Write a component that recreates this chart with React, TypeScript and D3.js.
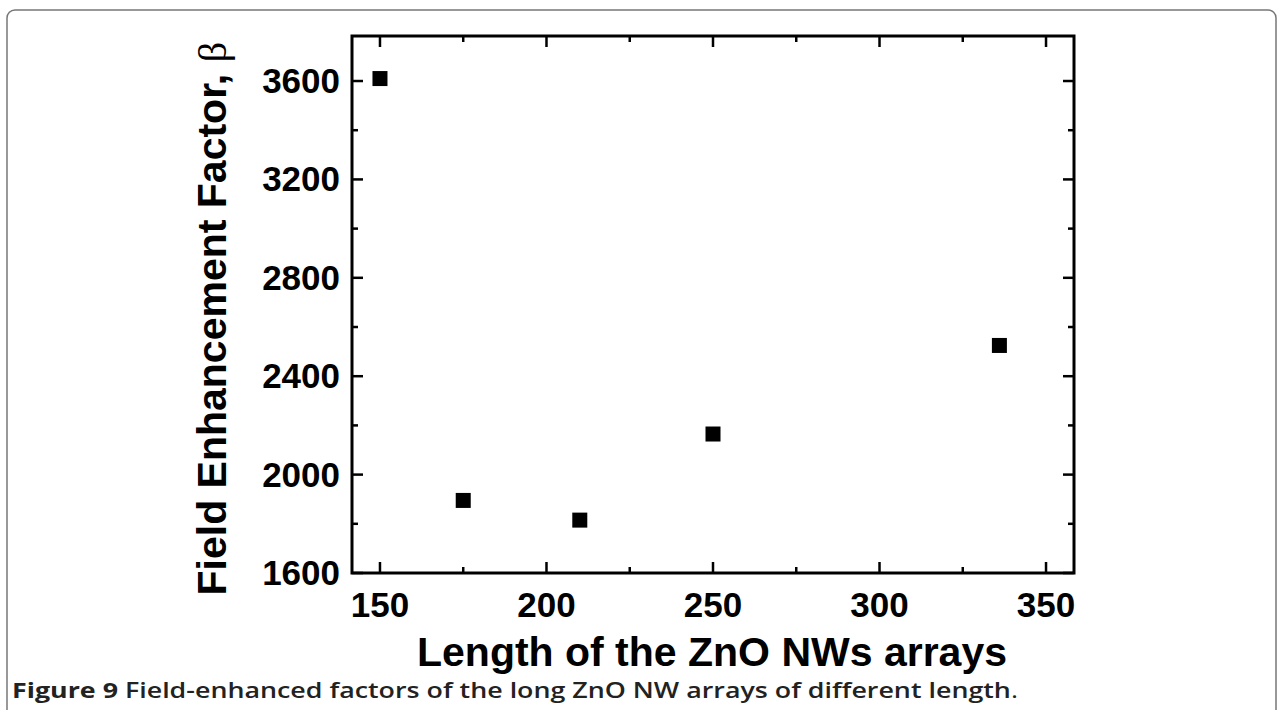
import React, { useEffect, useRef } from 'react';
import * as d3 from 'd3';

const lengths = [150, 175, 210, 250, 336];
const betas = [3610, 1895, 1815, 2165, 2525];
const xTicks = [150, 200, 250, 300, 350];
const yTicks = [1600, 2000, 2400, 2800, 3200, 3600];

const W = 1282;
const H = 710;

const App: React.FC = () => {
  const svgRef = useRef<SVGSVGElement>(null);

  useEffect(() => {
    if (!svgRef.current) return;
    const svg = d3.select(svgRef.current);
    svg.selectAll('*').remove();

    const left = 352, right = 1074, top = 36, bottom = 573;
    const x = d3.scaleLinear().domain([141.6, 358.4]).range([left, right]);
    const y = d3.scaleLinear().domain([1600, 3783]).range([bottom, top]);

    // figure frame
    svg.append('rect')
      .attr('x', 7).attr('y', 10).attr('width', W - 13).attr('height', H)
      .attr('rx', 8)
      .style('fill', 'none').style('stroke', '#777').style('stroke-width', 1.5);

    svg.append('rect')
      .attr('x', left).attr('y', top).attr('width', right - left).attr('height', bottom - top)
      .style('fill', 'none').style('stroke', '#000').style('stroke-width', 3);

    const g = svg.append('g').style('stroke', '#000').style('stroke-width', 2.5);
    d3.range(150, 351, 25).forEach(v => {
      const len = v % 50 === 0 ? 11 : 6;
      g.append('line').attr('x1', x(v)).attr('x2', x(v)).attr('y1', bottom).attr('y2', bottom - len);
      g.append('line').attr('x1', x(v)).attr('x2', x(v)).attr('y1', top).attr('y2', top + len);
    });
    d3.range(1600, 3701, 200).forEach(v => {
      const len = v % 400 === 0 ? 11 : 6;
      g.append('line').attr('x1', left).attr('x2', left + len).attr('y1', y(v)).attr('y2', y(v));
      g.append('line').attr('x1', right).attr('x2', right - len).attr('y1', y(v)).attr('y2', y(v));
    });

    const font = '"Liberation Sans", Arial, sans-serif';
    xTicks.forEach(v => {
      svg.append('text').attr('x', x(v)).attr('y', bottom + 44)
        .attr('text-anchor', 'middle').style('font-family', font)
        .style('font-size', '35px').style('font-weight', 'bold').text(v);
    });
    yTicks.forEach(v => {
      svg.append('text').attr('x', left - 12).attr('y', y(v) + 12)
        .attr('text-anchor', 'end').style('font-family', font)
        .style('font-size', '35px').style('font-weight', 'bold').text(v);
    });

    svg.append('text').attr('x', (left + right) / 2 - 1).attr('y', 666)
      .attr('text-anchor', 'middle').style('font-family', font)
      .style('font-size', '41px').style('font-weight', 'bold')
      .text('Length of the ZnO NWs arrays');

    svg.append('text')
      .attr('transform', `translate(226,${(top + bottom) / 2 + 14}) rotate(-90)`)
      .attr('text-anchor', 'middle').style('font-family', font)
      .style('font-size', '41px').style('font-weight', 'bold')
      .text('Field Enhancement Factor, ')
      .append('tspan').style('font-weight', 'normal').style('font-family', 'serif').text('β');

    const s = 15;
    svg.selectAll('rect.pt').data(lengths).enter().append('rect')
      .attr('class', 'pt')
      .attr('x', (d) => x(d) - s / 2)
      .attr('y', (_d, i) => y(betas[i]) - s / 2)
      .attr('width', s).attr('height', s).style('fill', '#000');

    const cap = svg.append('text').attr('x', 12).attr('y', 698)
      .attr('textLength', 1006).attr('lengthAdjust', 'spacingAndGlyphs')
      .style('font-family', '"Open Sans", sans-serif').style('font-size', '21px')
      .style('fill', '#222');
    cap.append('tspan').style('font-weight', 'bold').text('Figure 9 ');
    cap.append('tspan').style('font-weight', '600').text('Field-enhanced factors of the long ZnO NW arrays of different length');
    cap.append('tspan').style('font-weight', 'normal').text('.');
  }, []);

  return <svg ref={svgRef} width={W} height={H} style={{ display: 'block', position: 'absolute', left: 0, top: 0 }} />;
};

export default App;
